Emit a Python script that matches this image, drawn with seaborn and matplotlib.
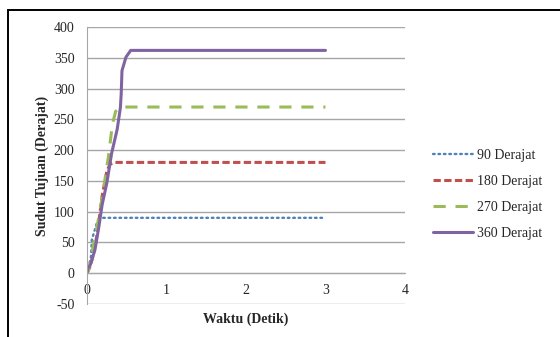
import pandas as pd
import matplotlib.pyplot as plt
import seaborn as sns
from matplotlib.patches import Rectangle

# Data
waktu_90 = [0, 0.03, 0.05, 0.06, 0.12, 0.16, 0.2, 3]
sudut_90 = [0, 15, 27, 54, 80, 87, 90, 90]

waktu_180 = [0, 0.04, 0.08, 0.13, 0.19, 0.25, 0.29, 0.35, 3]
sudut_180 = [0, 11, 30, 65, 125, 166, 177, 180, 180]

waktu_270 = [0, 0.02, 0.07, 0.15, 0.2, 0.27, 0.32, 0.36, 0.42, 3]
sudut_270 = [0, 5, 38, 92, 130, 190, 242, 263, 270, 270]

waktu_360 = [0, 0.01, 0.04, 0.1, 0.15, 0.19, 0.25, 0.31, 0.38, 0.42, 0.43, 0.44, 0.49, 0.55, 3]
sudut_360 = [0, 8, 13, 38, 76, 111, 147, 195, 234, 269, 291, 329, 351, 362, 362]

labels = ["90 Derajat", "180 Derajat", "270 Derajat", "360 Derajat"]
warna = ["#4F81BD", "#C0504D", "#9BBB59", "#8064A2"]

sns.set_style("white")
plt.rcParams['font.family'] = ['Liberation Serif', 'DejaVu Serif']
plt.rcParams['axes.unicode_minus'] = False

fig = plt.figure(figsize=(5.6, 3.37), dpi=100)
ax = fig.add_axes([87 / 560, 1 - 304 / 337, 318 / 560, 277 / 337])

seri = [(waktu_90, sudut_90), (waktu_180, sudut_180), (waktu_270, sudut_270), (waktu_360, sudut_360)]
gaya = [(0, (0.7, 1.6)), (0, (2.4, 1.1)), (0, (4.0, 3.2)), '-']
tebal = [1.7, 2.2, 2.2, 2.2]
for (x, y), lab, c, ls, lw in zip(seri, labels, warna, gaya, tebal):
    df = pd.DataFrame({"Waktu": x, "Sudut": y})
    sns.lineplot(data=df, x="Waktu", y="Sudut", ax=ax, color=c, linestyle=ls,
                 linewidth=lw, label=lab, sort=False, estimator=None)
for l in ax.lines[:1]:
    l.set_dash_capstyle('round')

ax.set_xlim(0, 4)
ax.set_ylim(-50, 400)
ax.set_xticks(range(0, 5))
ax.set_yticks(range(-50, 401, 50))
ax.yaxis.grid(True, color='#A6A6A6', linewidth=1)
ax.xaxis.grid(False)
for s in ['top', 'right']:
    ax.spines[s].set_visible(False)
ax.spines['bottom'].set_position(('data', 0))
ax.spines['bottom'].set_color('#A6A6A6')
ax.spines['left'].set_color('#A6A6A6')
ax.tick_params(axis='both', length=0, labelsize=10)
ax.tick_params(axis='x', pad=8)
ax.tick_params(axis='y', pad=9)

ax.set_xlabel("Waktu (Detik)", fontsize=10, fontweight='bold')
ax.xaxis.set_label_coords(0.5, -0.032)
ax.set_ylabel("Sudut Tujuan (Derajat)", fontsize=10, fontweight='bold')
ax.yaxis.set_label_coords(-0.12, 0.5)

ax.get_legend().remove()
h, l = ax.get_legend_handles_labels()
fig.legend(h, l, loc='center left', bbox_to_anchor=(0.75, 0.423), frameon=False,
           fontsize=10, handlelength=2.9, labelspacing=0.95, handletextpad=0.3)

fig.patches.append(Rectangle((8 / 560, -0.1), 1.2, 1.1 - 10 / 337, transform=fig.transFigure,
                             fill=False, edgecolor='black', linewidth=1.4, clip_on=False))

plt.savefig("out.png", dpi=100)
